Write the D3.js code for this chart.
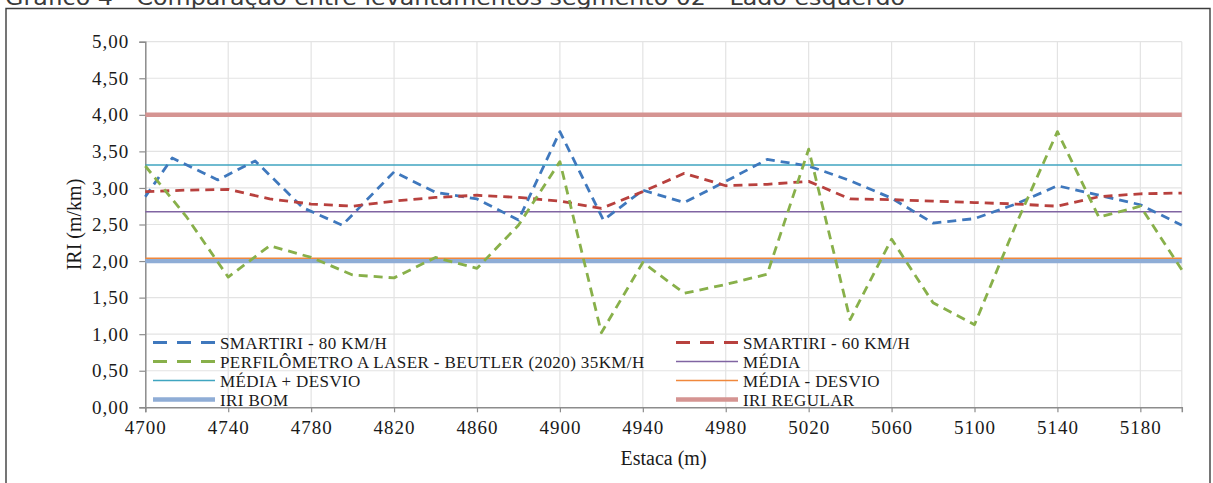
<!DOCTYPE html>
<html>
<head>
<meta charset="utf-8">
<script src="https://cdn.jsdelivr.net/npm/d3@7"></script>
<style>
  body { margin: 0; background: #fff; }
  svg { display: block; }
</style>
</head>
<body>
<div id="chart"></div>
<script>
// Stations (m) for the 60 km/h run and the laser profiler
var stations = [4700, 4720, 4740, 4760, 4780, 4800, 4820, 4840, 4860, 4880, 4900, 4920, 4940,
                4960, 4980, 5000, 5020, 5040, 5060, 5080, 5100, 5120, 5140, 5160, 5180, 5200];
// Stations (m) for the 80 km/h run (first points are not on the 20 m grid)
var stations80 = [4700, 4713, 4735, 4753, 4776, 4795, 4820, 4840, 4860, 4880, 4900, 4921, 4940,
                  4960, 4980, 5000, 5020, 5040, 5060, 5080, 5100, 5120, 5140, 5160, 5180, 5200];

var smart80 = [2.88, 3.41, 3.11, 3.37, 2.73, 2.49, 3.22, 2.94, 2.85, 2.56, 3.77, 2.56, 2.97,
               2.80, 3.09, 3.39, 3.30, 3.10, 2.86, 2.52, 2.58, 2.78, 3.03, 2.90, 2.77, 2.49];
var smart60 = [2.95, 2.97, 2.98, 2.85, 2.78, 2.75, 2.82, 2.87, 2.90, 2.87, 2.82, 2.72, 2.95,
               3.20, 3.03, 3.05, 3.09, 2.85, 2.84, 2.82, 2.80, 2.78, 2.75, 2.88, 2.92, 2.93];
var laser = [3.30, 2.60, 1.78, 2.21, 2.05, 1.81, 1.77, 2.05, 1.90, 2.49, 3.36, 1.02, 1.98,
             1.56, 1.68, 1.82, 3.53, 1.20, 2.30, 1.43, 1.13, 2.50, 3.77, 2.60, 2.75, 1.88];

// Reference levels
var media = 2.676;
var mediaMais = 3.314;
var mediaMenos = 2.038;
var iriBom = 2.00;
var iriRegular = 4.00;

var xTicks = [4700, 4740, 4780, 4820, 4860, 4900, 4940, 4980, 5020, 5060, 5100, 5140, 5180];
var yTicks = [0, 0.5, 1, 1.5, 2, 2.5, 3, 3.5, 4, 4.5, 5];

var legendNames = ["SMARTIRI - 80 KM/H", "SMARTIRI - 60 KM/H",
                   "PERFILÔMETRO A LASER - BEUTLER (2020) 35KM/H", "MÉDIA",
                   "MÉDIA + DESVIO", "MÉDIA - DESVIO",
                   "IRI BOM", "IRI REGULAR"];

var titleText = "Gráfico 4 - Comparação entre levantamentos segmento 02 - Lado esquerdo";

var visualize = function() {
  var W = 1213, H = 483;
  var margin = { top: 41.7, right: 31.2, bottom: 75.7, left: 145.3 },
     width = W - margin.left - margin.right,
     height = H - margin.top - margin.bottom;

  var svg = d3.select("#chart")
    .append("svg")
    .attr("width", W)
    .attr("height", H);

  // title (cut off at the top of the picture, as in the source) and frame
  svg.append("text")
     .attr("x", 5)
     .attr("y", 4.5)
     .attr("textLength", 900)
     .attr("lengthAdjust", "spacingAndGlyphs")
     .style("font-family", "'DejaVu Sans', sans-serif")
     .style("font-size", "21px")
     .style("fill", "#3a3a3a")
     .text(titleText);

  svg.append("path")
     .attr("d", "M6,490 V8.5 H1210 V490")
     .attr("fill", "none")
     .attr("stroke", "#3c3c3c")
     .attr("stroke-width", 1.4);

  var g = svg.append("g")
    .attr("transform", "translate(" + margin.left + "," + margin.top + ")");

  var x = d3.scaleLinear().domain([4700, 5200]).range([0, width]);
  var y = d3.scaleLinear().domain([0, 5]).range([height, 0]);

  // gridlines
  g.selectAll(".vgrid")
   .data(xTicks.slice(1).concat([5200]))
   .enter()
   .append("line")
   .attr("x1", function(d) { return x(d); })
   .attr("x2", function(d) { return x(d); })
   .attr("y1", 0)
   .attr("y2", height)
   .attr("stroke", "#e3e3e3")
   .attr("stroke-width", 1.2);

  g.selectAll(".hgrid")
   .data(yTicks.slice(1))
   .enter()
   .append("line")
   .attr("x1", 0)
   .attr("x2", width)
   .attr("y1", function(d) { return y(d); })
   .attr("y2", function(d) { return y(d); })
   .attr("stroke", "#e3e3e3")
   .attr("stroke-width", 1.2);

  // axes
  var fmt = function(d) { return d3.format(".2f")(d).replace(".", ","); };
  var xAxis = d3.axisBottom(x).tickValues(xTicks).tickSize(5).tickPadding(8).tickFormat(d3.format("d"));
  var yAxis = d3.axisLeft(y).tickValues(yTicks).tickSize(6).tickPadding(10).tickFormat(fmt);

  var gx = g.append("g").attr("transform", "translate(0," + height + ")").call(xAxis);
  var gy = g.append("g").call(yAxis);

  [gx, gy].forEach(function(a) {
    a.select(".domain").attr("stroke", "#8c8c8c").attr("stroke-width", 1.5);
    a.selectAll(".tick line").attr("stroke", "#8c8c8c").attr("stroke-width", 1.2);
    a.selectAll("text")
     .style("font-family", "'Liberation Serif', 'Times New Roman', serif")
     .style("font-size", "19px")
     .style("letter-spacing", "1px")
     .attr("fill", "#1a1a1a");
  });

  // axis titles
  g.append("text")
   .attr("x", width / 2)
   .attr("y", height + 58)
   .attr("text-anchor", "middle")
   .style("font-family", "'Liberation Serif', serif")
   .style("font-size", "20px")
   .style("fill", "#1a1a1a")
   .text("Estaca (m)");

  g.append("text")
   .attr("transform", "translate(" + (-64) + "," + (height / 2) + ") rotate(-90)")
   .attr("text-anchor", "middle")
   .style("font-family", "'Liberation Serif', serif")
   .style("font-size", "20px")
   .style("fill", "#1a1a1a")
   .text("IRI (m/km)");

  // series styles, in legend order
  var styles = [
    { color: "#3f78bd", width: 2.8, dash: "9,6", leg: "14,10" },
    { color: "#b8413e", width: 2.8, dash: "9,6", leg: "14,10" },
    { color: "#88b04a", width: 2.8, dash: "9,6", leg: "14,10" },
    { color: "#8064a2", width: 1.5, dash: null },
    { color: "#3fa5c0", width: 1.5, dash: null },
    { color: "#f0883c", width: 1.5, dash: null },
    { color: "#8fadd6", width: 4.5, dash: null },
    { color: "#d59492", width: 4.5, dash: null }
  ];

  // constant lines
  var levels = [
    { v: iriBom, s: styles[6] },
    { v: iriRegular, s: styles[7] },
    { v: media, s: styles[3] },
    { v: mediaMais, s: styles[4] },
    { v: mediaMenos, s: styles[5] }
  ];
  g.selectAll(".level")
   .data(levels)
   .enter()
   .append("line")
   .attr("x1", 0)
   .attr("x2", width)
   .attr("y1", function(d) { return y(d.v); })
   .attr("y2", function(d) { return y(d.v); })
   .attr("stroke", function(d) { return d.s.color; })
   .attr("stroke-width", function(d) { return d.s.width; });

  // measured series
  var line = d3.line()
    .x(function(d) { return x(d[0]); })
    .y(function(d) { return y(d[1]); });

  var series = [
    { xs: stations80, vs: smart80, s: styles[0] },
    { xs: stations, vs: smart60, s: styles[1] },
    { xs: stations, vs: laser, s: styles[2] }
  ];
  series.forEach(function(sr) {
    g.append("path")
     .datum(d3.zip(sr.xs, sr.vs))
     .attr("d", line)
     .attr("fill", "none")
     .attr("stroke", sr.s.color)
     .attr("stroke-width", sr.s.width)
     .attr("stroke-dasharray", sr.s.dash)
     .attr("stroke-linejoin", "round");
  });

  // legend: two columns, four rows
  var legend = svg.append("g");
  var colX = [153, 676], rowY0 = 342.5, rowH = 19;
  legendNames.forEach(function(name, i) {
    var cx = colX[i % 2], cy = rowY0 + Math.floor(i / 2) * rowH;
    var s = styles[i];
    legend.append("line")
      .attr("x1", cx).attr("x2", cx + 62)
      .attr("y1", cy).attr("y2", cy)
      .attr("stroke", s.color)
      .attr("stroke-width", s.width)
      .attr("stroke-dasharray", s.leg || null);
    legend.append("text")
      .attr("x", cx + 67)
      .attr("y", cy + 6)
      .style("font-family", "'Liberation Serif', serif")
      .style("font-size", "17px")
      .style("letter-spacing", "0.4px")
      .style("fill", "#1a1a1a")
      .text(name);
  });
};

visualize();
</script>
</body>
</html>
